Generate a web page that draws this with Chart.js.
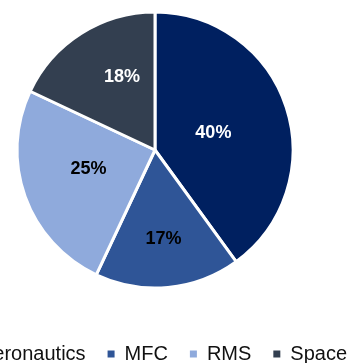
<!DOCTYPE html>
<html>
<head>
<meta charset="utf-8">
<script src="https://cdn.jsdelivr.net/npm/chart.js@4.4.1/dist/chart.umd.min.js"></script>
<style>
  html, body { margin: 0; padding: 0; width: 361px; height: 363px; overflow: hidden; background: #fff; }
  #wrap { position: absolute; left: -75px; top: -22px; width: 460px; height: 396px; }
</style>
</head>
<body>
<div id="wrap"><canvas id="pie"></canvas></div>
<script>
// segment shares (%)
const segments = ['Aeronautics', 'MFC', 'RMS', 'Space'];
const shares = [40, 17, 25, 18];
const sliceColors = ['#002060', '#2F5597', '#8FAADC', '#333F50'];
const labelColors = ['#fff', '#000', '#000', '#fff'];

// where each % label sits: fraction of radius + small angle nudge (deg)
const labelDist = [0.44, 0.65, 0.5, 0.58];
const labelNudge = [2, 0, 4, 8];

const pctLabels = {
  id: 'pctLabels',
  afterDatasetsDraw(chart) {
    const ctx = chart.ctx;
    const meta = chart.getDatasetMeta(0);
    ctx.save();
    ctx.font = 'bold 18px "Liberation Sans", Arial, sans-serif';
    ctx.textAlign = 'center';
    ctx.textBaseline = 'middle';
    meta.data.forEach(function (arc, i) {
      const p = arc.getProps(['x', 'y', 'startAngle', 'endAngle', 'outerRadius'], true);
      const mid = (p.startAngle + p.endAngle) / 2 + labelNudge[i] * Math.PI / 180;
      const r = p.outerRadius * labelDist[i];
      ctx.fillStyle = labelColors[i];
      ctx.fillText(shares[i] + '%', p.x + Math.cos(mid) * r, p.y + Math.sin(mid) * r);
    });
    ctx.restore();
  },
};

new Chart(document.getElementById('pie'), {
  type: 'pie',
  data: {
    labels: segments,
    datasets: [
      {
        data: shares,
        backgroundColor: sliceColors,
        borderColor: '#fff',
        borderWidth: 3,
        radius: 138,
      },
    ],
  },
  options: {
    responsive: true,
    maintainAspectRatio: false,
    animation: false,
    layout: { padding: 0 },
    plugins: {
      tooltip: { enabled: false },
      legend: {
        position: 'bottom',
        labels: {
          boxWidth: 7,
          boxHeight: 7,
          padding: 22,
          color: '#111',
          font: { family: '"Liberation Sans", Arial, sans-serif', size: 20 },
          generateLabels: function (chart) {
            return segments.map(function (s, i) {
              return {
                text: s,
                fillStyle: sliceColors[i],
                strokeStyle: sliceColors[i],
                lineWidth: 0,
                fontColor: '#111',
                hidden: false,
                index: i,
              };
            });
          },
        },
      },
    },
  },
  plugins: [pctLabels],
});
</script>
</body>
</html>
